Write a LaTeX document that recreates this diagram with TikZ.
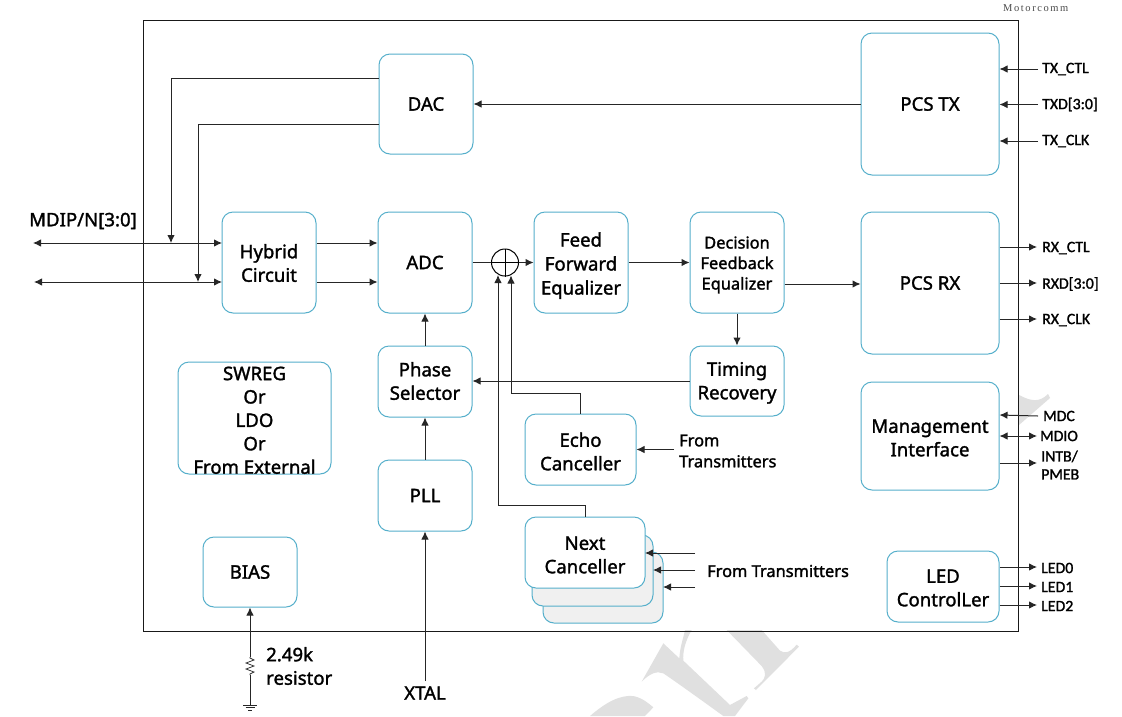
\documentclass[tikz,border=0pt]{standalone}
\usepackage{fontspec}
\setmainfont{Noto Sans}[FakeBold=1.6]
\newfontfamily\smallf{Carlito}[FakeBold=1.4]
\newfontfamily\markf{Liberation Serif}[LetterSpace=15]
\usetikzlibrary{arrows.meta}
\definecolor{boxc}{HTML}{55AFCB}
\definecolor{wm}{HTML}{E0E0E0}
\newcommand{\tp}[1]{\rule{0pt}{#1pt}}
\newcommand{\bt}{\rule[-5pt]{0pt}{5pt}}
\tikzset{
  blk/.style={draw=boxc,line width=1pt,rounded corners=11pt,fill=white,align=center,font=\fontsize{18.6}{23.5}\selectfont,inner sep=0pt},
  back/.style={draw=boxc,line width=1pt,rounded corners=11pt,fill=black!6},
  wire/.style={draw=black!85,line width=1pt},
  arr/.style={wire,-{Latex[length=8pt,width=7.5pt]}},
  darr/.style={wire,{Latex[length=8pt,width=7.5pt]}-{Latex[length=8pt,width=7.5pt]}},
  lab/.style={font=\fontsize{18.6}{23.5}\selectfont,align=left,inner sep=0pt},
  sig/.style={font=\smallf\fontsize{15.8}{18}\selectfont,anchor=west,align=left,inner sep=0pt},
}
\begin{document}
\begin{tikzpicture}[x=1pt,y=-1pt]
\useasboundingbox (0,0) rectangle (1122,716);
\fill[white] (0,0) rectangle (1122,716);
% watermark
\begin{scope}[shift={(630,630)},x=0.3333pt,y=-0.3333pt]
\fill[wm] (100,40) -- (148,85) .. controls (150,50) and (160,25) .. (165,0) -- (185,0) .. controls (165,35) and (158,65) .. (160,92) -- (300,225) -- (350,198) -- (355,205) -- (315,258) -- (280,258) .. controls (200,200) and (130,150) .. (100,130) .. controls (80,122) and (60,130) .. (35,155) -- cycle;
\fill[wm] (290,0) -- (395,108) .. controls (412,130) and (405,145) .. (395,155) -- (372,175) -- (378,180) -- (507,50) -- (500,44) .. controls (480,68) and (465,72) .. (450,62) -- (395,0) -- cycle;
\fill[wm] (-120,258) .. controls (-70,215) and (-30,195) .. (10,198) .. controls (40,205) and (55,220) .. (70,232) -- (45,258) -- cycle;
\end{scope}
\fill[wm] (1019,395) -- (1019,425) -- (1050,398) -- (1048,394) .. controls (1040,402) and (1032,402) .. (1019,395) -- cycle;
% frame
\draw[line width=1pt,black!90] (143,20) rectangle (1018,631);
\node[font=\markf\fontsize{10.5}{12}\selectfont,text=black!70,anchor=west,inner sep=0pt] (mc) at (1003,8) {Motorcomm};
% stacked canceller backs
\path[back] (543,552) rectangle (663,623);
\path[back] (532,535) rectangle (653,606);
% blocks
\node[blk,minimum width=94pt,minimum height=100pt] (dac) at (426,104) {DAC};
\node[blk,minimum width=138pt,minimum height=142pt] (pcstx) at (930,104) {PCS TX};
\node[blk,minimum width=94pt,minimum height=101pt] (hyb) at (269,262.5) {\tp{20}Hybrid\\Circuit\bt};
\node[blk,minimum width=94pt,minimum height=101pt] (adc) at (425,262.5) {ADC};
\node[blk,minimum width=94pt,minimum height=101pt,font=\fontsize{18.6}{24}\selectfont] (ffe) at (581,262.5) {\tp{21}Feed\\Forward\\Equalizer\bt};
\node[blk,minimum width=94pt,minimum height=101pt,font=\fontsize{16.4}{20.5}\selectfont] (dfe) at (737,262.5) {\tp{18}Decision\\Feedback\\Equalizer\bt};
\node[blk,minimum width=138pt,minimum height=142pt] (pcsrx) at (930,283) {PCS RX};
\node[blk,minimum width=94pt,minimum height=71pt] (ps) at (425,381.5) {\tp{18}Phase\\Selector\bt};
\node[blk,minimum width=94pt,minimum height=70pt] (tr) at (737,381) {\tp{18}Timing\\Recovery\bt};
\node[blk,minimum width=153pt,minimum height=112pt,font=\fontsize{18.6}{23.4}\selectfont] (sw) at (254.5,418) {\tp{18}SWREG\\Or\\LDO\\Or\\From External};
\node[blk,minimum width=94pt,minimum height=71pt] (pll) at (425,495.5) {PLL};
\node[blk,minimum width=111pt,minimum height=71pt] (echo) at (580.5,449.5) {\tp{23}Echo\\Canceller\bt};
\node[blk,minimum width=120pt,minimum height=71pt] (next) at (585,552.5) {\tp{23}Next\\Canceller\bt};
\node[blk,minimum width=138pt,minimum height=108pt] (mgmt) at (930,436) {\tp{22}Management\\Interface\bt};
\node[blk,minimum width=112pt,minimum height=71pt] (led) at (943,586.5) {\tp{21}LED\\ControlLer\bt};
\node[blk,minimum width=94pt,minimum height=70pt] (bias) at (250,572) {BIAS};
% summer
\node[draw=black,line width=1pt,circle,minimum size=27pt,inner sep=0pt,fill=white] (sum) at (505,262.5) {};
\draw[line width=0.9pt,black] (sum.north) -- (sum.south) (sum.west) -- (sum.east);
% external labels
\node[lab,anchor=west] (mdi) at (29,221) {MDIP/N[3:0]};
\node[lab,anchor=west] (res) at (266,666) {2.49k\\resistor};
\node[lab,anchor=center] (xtal) at (425,693) {XTAL};
\node[lab,font=\fontsize{16.4}{21}\selectfont,anchor=west] (ft1) at (679,451) {From\\Transmitters};
\node[lab,font=\fontsize{16.4}{21}\selectfont,anchor=west] (ft2) at (707,571) {From Transmitters};
\node[sig] (txctl) at (1042,69) {TX\_CTL};
\node[sig] (txd) at (1042,104.5) {TXD[3:0]};
\node[sig] (txclk) at (1042,141) {TX\_CLK};
\node[sig] (rxctl) at (1042,248) {RX\_CTL};
\node[sig] (rxd) at (1042,284) {RXD[3:0]};
\node[sig] (rxclk) at (1042,320) {RX\_CLK};
\node[sig] (mdc) at (1043,416) {MDC};
\node[sig] (mdio) at (1040,436) {MDIO};
\node[sig] (intb) at (1041,465) {INTB/\\PMEB};
\node[sig] (led0) at (1041,568) {LED0};
\node[sig] (led1) at (1041,587) {LED1};
\node[sig] (led2) at (1041,606) {LED2};
% free ends
\coordinate (m1) at (33,243); \coordinate (m2) at (34,282);
\coordinate (h1) at (222,243); \coordinate (h2) at (222,282);
% connectors
\draw[darr] (m1) -- (h1);
\draw[darr] (m2) -- (h2);
\draw[arr] (dac.west |- 0,78) -| (171,243);
\draw[arr] (dac.west |- 0,124) -| (198,282);
\draw[arr] (hyb.east |- 0,243) -- (adc.west |- 0,243);
\draw[arr] (hyb.east |- 0,282) -- (adc.west |- 0,282);
\draw[wire] (adc.east) -- (sum.west);
\draw[arr] (sum.east) -- (ffe.west);
\draw[arr] (ffe.east) -- (dfe.west);
\draw[arr] (dfe.east |- 0,284) -- (pcsrx.west |- 0,284);
\draw[arr] (dfe.south) -- (tr.north);
\draw[arr] (tr.west) -- (ps.east |- tr.west);
\draw[arr] (ps.north) -- (adc.south);
\draw[arr] (pll.north) -- (ps.south);
\draw[arr] (pcstx.west) -- (dac.east);
\draw[arr] (xtal.north) ++(0,-5) -- (pll.south);
\draw[arr] (echo.north) |- (511,393) -- (511,275.5);
\draw[arr] (next.north) |- (498,505) -- (498,275);
\coordinate (e1) at (674,449.5);
\draw[arr] (e1) -- (echo.east);
\coordinate (n1) at (695,553); \coordinate (n2) at (695,570); \coordinate (n3) at (695,587);
\draw[arr] (n1) -- (645,553);
\draw[arr] (n2) -- (653,570);
\draw[arr] (n3) -- (663,587);
\draw[arr] (txctl.west) ++(-4,0) -- (pcstx.east |- 0,69);
\draw[arr] (txd.west) ++(-4,0) -- (pcstx.east |- 0,104.5);
\draw[arr] (txclk.west) ++(-4,0) -- (pcstx.east |- 0,141);
\draw[arr] (pcsrx.east |- 0,247) -- (1037,247);
\draw[arr] (pcsrx.east) -- (1037,283);
\draw[arr] (pcsrx.east |- 0,319) -- (1037,319);
\draw[arr] (mdc.west) ++(-5,0) -- (mgmt.east |- 0,415);
\draw[darr] (mgmt.east |- 0,436) -- (1037,436);
\draw[arr] (mgmt.east |- 0,463) -- (1037,463);
\draw[arr] (led.east |- 0,567) -- (1037,567);
\draw[arr] (led.east |- 0,586) -- (1037,586);
\draw[arr] (led.east |- 0,605) -- (1037,605);
% resistor and ground
\coordinate (rtop) at (250,657); \coordinate (rbot) at (250,675); \coordinate (gnd) at (250,705);
\draw[arr] (rtop) -- (bias.south);
\draw[wire,line width=0.7pt] (rtop) -- (250,658) -- (254,660) -- (246,663) -- (254,666) -- (246,669) -- (254,672) -- (250,674) -- (rbot);
\draw[wire] (rbot) -- (gnd);
\draw[line width=0.9pt,black!85] (243,705) -- (257,705) (245.5,707.5) -- (254.5,707.5) (248,710) -- (252,710);
\end{tikzpicture}
\end{document}
